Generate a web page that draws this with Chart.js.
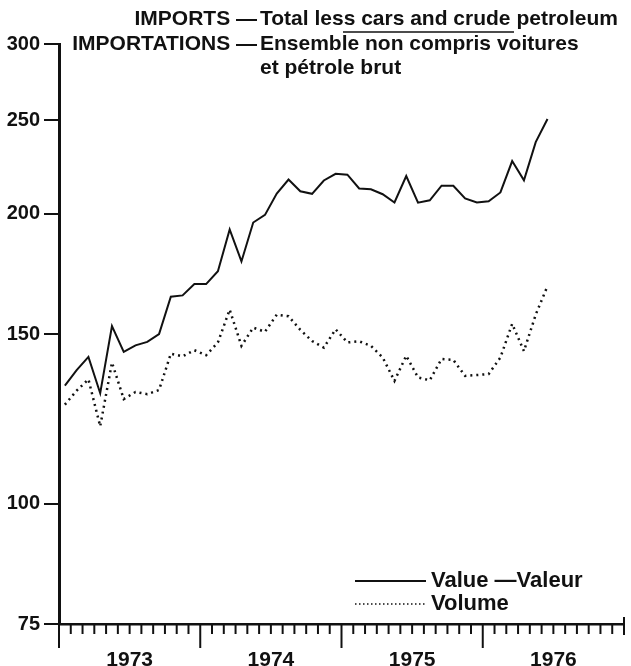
<!DOCTYPE html>
<html>
<head>
<meta charset="utf-8">
<script src="https://cdn.jsdelivr.net/npm/chart.js@4.4.1/dist/chart.umd.min.js"></script>
<style>
  html, body { margin: 0; padding: 0; background: #fff; }
  canvas { display: block; }
</style>
</head>
<body>
<canvas id="imports" width="631" height="666"></canvas>
<script>
// months run Jan 1973 .. Jun 1976 (monthly, 1973 = 100 style index)
const years = ["1973", "1974", "1975", "1976"];
const yTicks = [75, 100, 150, 200, 250, 300];

const valueSeries = [
  132.6, 137.6, 142, 130.2, 152.9, 143.7, 146, 147.2, 150, 164, 164.5, 169,
  169, 174.3, 192.6, 178.4, 195.8, 199.4, 209.8, 217, 211, 209.7, 216.5, 220,
  219.5, 212.4, 212, 209.5, 205.4, 218.8, 205.3, 206.5, 213.8, 213.8, 207.4, 205.4,
  206, 210.4, 226.8, 216.6, 237.3, 250.8
];
const volumeSeries = [
  126.7, 131, 134.6, 120.3, 140.1, 128.4, 130.6, 129.9, 131.2, 143.1, 142.2, 144.3,
  142.6, 147, 159, 145.8, 152.3, 150.8, 157.1, 156.5, 151.5, 147.5, 145.2, 151.7,
  147, 147.4, 145.8, 141.8, 134.1, 142.4, 135.2, 134.3, 141.3, 141, 135.7, 136,
  136.3, 141.8, 153.7, 144, 157.1, 168.2
];

const titleLeft = ["IMPORTS \u2014", "IMPORTATIONS \u2014", ""];
const titleRight = [
  "Total less cars and crude petroleum",
  "Ensemble non compris voitures",
  "et p\u00e9trole brut"
];
const valueLabel = "Value \u2014Valeur";
const volumeLabel = "Volume";

const ink = "#111";
const fontFamily = "'Liberation Sans', Arial, sans-serif";
const boldFont = (size) => "bold " + size + "px " + fontFamily;

// each month is plotted in the middle of its slot
function toPoints(arr) {
  return arr.map(function (v, i) {
    return { x: i + 0.5, y: v };
  });
}

const paperPlugin = {
  id: "paper",
  beforeDraw(chart) {
    const ctx = chart.ctx;
    ctx.save();
    ctx.fillStyle = "#fff";
    ctx.fillRect(0, 0, chart.width, chart.height);
    ctx.restore();
  },
  afterDraw(chart) {
    const ctx = chart.ctx;
    const x = chart.scales.x;
    const area = chart.chartArea;
    ctx.save();

    //month ticks under the x axis, longer ones at the year breaks
    ctx.strokeStyle = ink;
    ctx.lineWidth = 2;
    for (let i = 0; i <= years.length * 12; i++) {
      const px = x.getPixelForValue(i);
      let top = area.bottom, len = 10;
      if (i % 12 === 0) len = 24;
      if (i === years.length * 12) { top = area.bottom - 7; len = 11; }
      ctx.beginPath();
      ctx.moveTo(px, top);
      ctx.lineTo(px, area.bottom + len);
      ctx.stroke();
    }

    //title block
    ctx.fillStyle = ink;
    ctx.font = boldFont(21);
    ctx.textBaseline = "middle";
    const rows = [19, 44, 68];
    titleRight.forEach(function (t, i) {
      ctx.textAlign = "right";
      if (titleLeft[i]) ctx.fillText(titleLeft[i], 257, rows[i]);
      ctx.textAlign = "left";
      ctx.fillText(t, 260, rows[i]);
    });
    ctx.lineWidth = 1.5;
    ctx.beginPath();
    ctx.moveTo(343, 32);
    ctx.lineTo(514, 32);
    ctx.stroke();

    //legend
    const ds = chart.data.datasets;
    const legendRows = [581, 604];
    ds.forEach(function (d, i) {
      const y = legendRows[i];
      ctx.beginPath();
      ctx.lineWidth = i === 0 ? 2 : 1.5;
      ctx.setLineDash(i === 0 ? [] : [1.5, 2.5]);
      ctx.moveTo(355, y);
      ctx.lineTo(426, y);
      ctx.stroke();
      ctx.setLineDash([]);
      ctx.textAlign = "left";
      ctx.font = boldFont(22);
      ctx.fillText(d.label, 431, y);
    });
    ctx.restore();
  }
};

const ctx = document.getElementById("imports").getContext("2d");
new Chart(ctx, {
  type: "line",
  data: {
    datasets: [
      {
        label: valueLabel,
        data: toPoints(valueSeries),
        borderColor: ink,
        borderWidth: 2,
        pointRadius: 0,
        tension: 0
      },
      {
        label: volumeLabel,
        data: toPoints(volumeSeries),
        borderColor: ink,
        borderWidth: 2.5,
        borderDash: [2, 4],
        pointRadius: 0,
        tension: 0
      }
    ]
  },
  options: {
    responsive: false,
    animation: false,
    layout: { padding: { left: 0, right: 7, top: 44, bottom: 0 } },
    plugins: {
      legend: { display: false },
      title: { display: false },
      tooltip: { enabled: false }
    },
    scales: {
      x: {
        type: "linear",
        min: 0,
        max: years.length * 12,
        afterBuildTicks: function (scale) {
          scale.ticks = years.map(function (y, i) {
            return { value: i * 12 + 6 };
          });
        },
        afterFit: function (scale) {
          scale.height = 42;
        },
        ticks: {
          autoSkip: false,
          maxRotation: 0,
          padding: 24,
          color: ink,
          font: { family: fontFamily, size: 21, weight: "bold" },
          callback: function (v) {
            return years[Math.round((v - 6) / 12)];
          }
        },
        grid: { display: false, drawTicks: false },
        border: { display: true, color: ink, width: 2.5 }
      },
      y: {
        type: "logarithmic",
        min: 75,
        max: 300,
        afterBuildTicks: function (scale) {
          scale.ticks = yTicks.map(function (v) {
            return { value: v };
          });
        },
        afterFit: function (scale) {
          scale.width = 59;
        },
        ticks: {
          padding: 4,
          color: ink,
          font: { family: fontFamily, size: 20, weight: "bold" },
          callback: function (v) {
            return String(v);
          }
        },
        grid: {
          drawOnChartArea: false,
          drawTicks: true,
          tickLength: 15,
          color: ink,
          lineWidth: 2
        },
        border: { display: true, color: ink, width: 3 }
      }
    }
  },
  plugins: [paperPlugin]
});
</script>
</body>
</html>
